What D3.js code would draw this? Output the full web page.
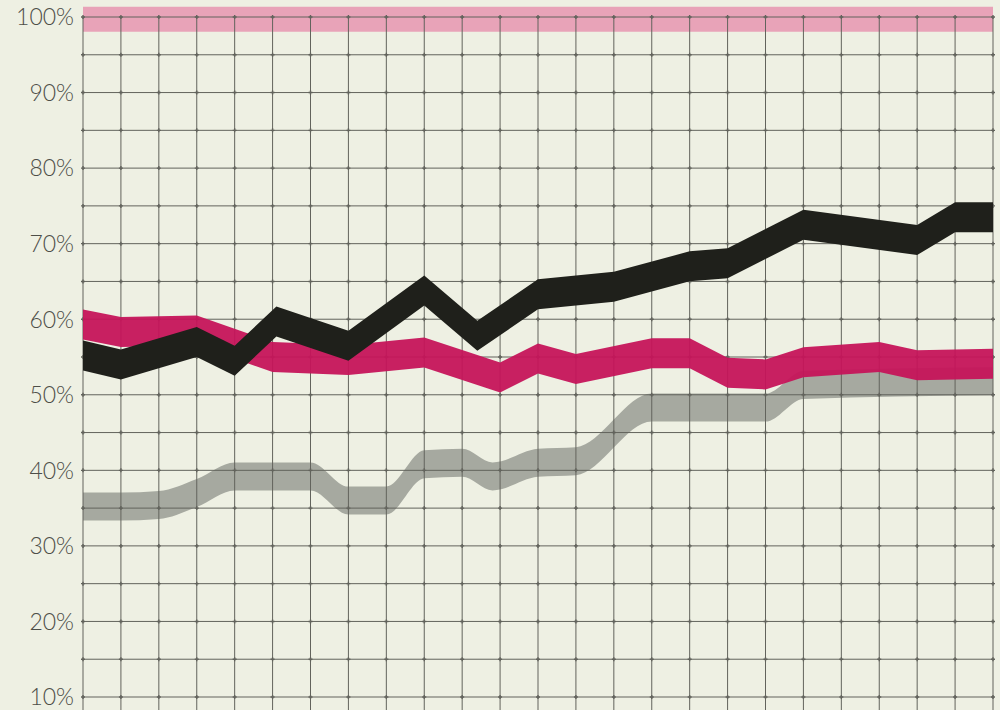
<!DOCTYPE html>
<html>
<head>
<meta charset="utf-8">
<script src="https://cdn.jsdelivr.net/npm/d3@7/dist/d3.min.js"></script>
<style>
  body { margin: 0; background: #eef0e3; }
  svg { display: block; }
</style>
</head>
<body>
<div id="chart"></div>
<script>
// tick labels on the left
var yTicks = [10, 20, 30, 40, 50, 60, 70, 80, 90, 100];
// grid: 24 columns, rows every 5%
var columns = d3.range(0, 25);
var rows = d3.range(10, 101, 5);

// series, position along the time grid (column index) and value in %
var topPos = [0, 24];
var topVal = [99.7, 99.7];

var blackPos = [0, 1, 3, 4, 5.1, 7, 9, 10.4, 12, 14, 16, 17, 19, 22, 23, 24];
var blackVal = [55.2, 54.0, 57.0, 54.5, 59.7, 56.5, 63.8, 57.8, 63.3, 64.3, 67.0, 67.4, 72.5, 70.5, 73.5, 73.5];

var pinkPos = [0, 1, 3, 5, 7, 9, 11, 12, 13, 15, 16, 17, 18, 19, 21, 22, 24];
var pinkVal = [59.3, 58.3, 58.5, 55.0, 54.6, 55.6, 52.3, 54.8, 53.4, 55.5, 55.5, 52.9, 52.7, 54.3, 55.0, 53.9, 54.1];

var grayPos = [0, 1, 2, 3, 4, 6, 7, 8, 9, 10, 10.8, 12, 13, 15, 18, 19, 24];
var grayVal = [35.2, 35.2, 35.4, 37.0, 39.2, 39.2, 36.0, 36.0, 40.8, 41.0, 39.2, 41.0, 41.2, 48.3, 48.3, 51.3, 51.8];

var W = 1000, H = 710;
var x = d3.scaleLinear().domain([0, 24]).range([83, 993]);
var y = d3.scaleLinear().domain([10, 100]).range([697, 17]);

var svg = d3.select("#chart").append("svg")
    .attr("width", W)
    .attr("height", H);

svg.append("rect").attr("width", W).attr("height", H).attr("fill", "#eef0e3");

function band(pos, val, thick, curve) {
  var pts = pos.map(function(p, i) { return {p: p, v: val[i]}; });
  return d3.area()
    .x(function(d) { return x(d.p); })
    .y0(function(d) { return y(d.v) + thick / 2; })
    .y1(function(d) { return y(d.v) - thick / 2; })
    .curve(curve || d3.curveLinear)(pts);
}

// pale pink band at the 100% line
svg.append("path")
  .attr("d", band(topPos, topVal, 25))
  .attr("fill", "#e8a3b8");

// gray band goes under the grid
svg.append("path")
  .attr("d", band(grayPos, grayVal, 28, d3.curveMonotoneX))
  .attr("fill", "#a6a9a0");

// grid
var grid = svg.append("g").attr("stroke", "#62635c").attr("stroke-width", 1);
grid.selectAll("line.h").data(rows).enter().append("line")
  .attr("class", "h")
  .attr("x1", x(0)).attr("x2", x(24))
  .attr("y1", function(d) { return y(d); })
  .attr("y2", function(d) { return y(d); });
grid.selectAll("line.v").data(columns).enter().append("line")
  .attr("class", "v")
  .attr("x1", function(d) { return x(d); })
  .attr("x2", function(d) { return x(d); })
  .attr("y1", y(100)).attr("y2", H);

// little crosses where lines meet
var cross = [];
columns.forEach(function(c) { rows.forEach(function(r) { cross.push({c: c, r: r}); }); });
grid.selectAll("path.cross").data(cross).enter().append("path")
  .attr("class", "cross")
  .attr("stroke-width", 1.4)
  .attr("d", function(d) {
    var cx = x(d.c), cy = y(d.r);
    return "M" + (cx - 2) + "," + cy + "H" + (cx + 2) + "M" + cx + "," + (cy - 2) + "V" + (cy + 2);
  });

// pink band
svg.append("path")
  .attr("d", band(pinkPos, pinkVal, 30))
  .attr("fill", "#c5145a")
  .attr("fill-opacity", 0.95);

// black band
svg.append("path")
  .attr("d", band(blackPos, blackVal, 30))
  .attr("fill", "#1f201b");

// y labels
svg.append("g").selectAll("text").data(yTicks).enter().append("text")
  .attr("x", 74)
  .attr("y", function(d) { return y(d); })
  .attr("dy", "0.36em")
  .attr("text-anchor", "end")
  .attr("font-family", "Lato, 'DejaVu Sans', sans-serif")
  .attr("font-weight", 300)
  .attr("font-size", 23)
  .attr("fill", "#4d4e48")
  .text(function(d) { return d + "%"; });
</script>
</body>
</html>
